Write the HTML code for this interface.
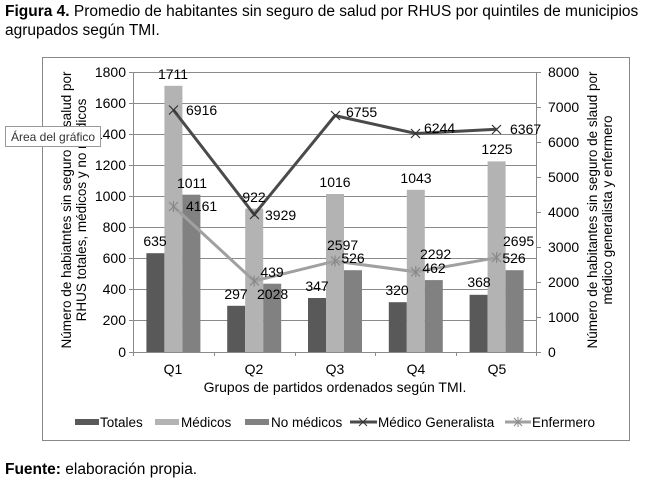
<!DOCTYPE html><html><head><meta charset="utf-8"><style>body{margin:0;background:#fff}svg{display:block;font-family:"Liberation Sans",Arial,sans-serif}</style></head><body>
<svg width="671" height="481" viewBox="0 0 671 481">
<text x="5" y="16" font-size="15.5" fill="#000"><tspan font-weight="bold">Figura 4.</tspan> Promedio de habitantes sin seguro de salud por RHUS por quintiles de municipios</text>
<text x="5" y="35" font-size="15.5" fill="#000">agrupados según TMI.</text>
<rect x="42.5" y="57.5" width="587" height="383" fill="#fff" stroke="#888"/>
<g stroke="#8a8a8a" stroke-width="1">
<line x1="133" x2="537" y1="72.5" y2="72.5"/><line x1="133" x2="537" y1="103.5" y2="103.5"/><line x1="133" x2="537" y1="134.5" y2="134.5"/><line x1="133" x2="537" y1="165.5" y2="165.5"/><line x1="133" x2="537" y1="196.5" y2="196.5"/><line x1="133" x2="537" y1="227.5" y2="227.5"/><line x1="133" x2="537" y1="258.5" y2="258.5"/><line x1="133" x2="537" y1="289.5" y2="289.5"/><line x1="133" x2="537" y1="320.5" y2="320.5"/>
</g>
<g fill="#595959"><rect x="146.4" y="253.2" width="18" height="98.8"/><rect x="227.2" y="305.8" width="18" height="46.2"/><rect x="308" y="298" width="18" height="54"/><rect x="388.8" y="302.2" width="18" height="49.8"/><rect x="469.6" y="294.8" width="18" height="57.2"/></g>
<g fill="#b3b3b3"><rect x="164.4" y="85.8" width="18" height="266.2"/><rect x="245.2" y="208.6" width="18" height="143.4"/><rect x="326" y="194" width="18" height="158"/><rect x="406.8" y="189.8" width="18" height="162.2"/><rect x="487.6" y="161.4" width="18" height="190.6"/></g>
<g fill="#818181"><rect x="182.4" y="194.7" width="18" height="157.3"/><rect x="263.2" y="283.7" width="18" height="68.3"/><rect x="344" y="270.2" width="18" height="81.8"/><rect x="424.8" y="280.1" width="18" height="71.9"/><rect x="505.6" y="270.2" width="18" height="81.8"/></g>
<g stroke="#8a8a8a"><line x1="133.5" y1="72" x2="133.5" y2="356"/><line x1="536.5" y1="72" x2="536.5" y2="356"/><line x1="129" x2="541" y1="352.5" y2="352.5"/>
<line x1="129" x2="133" y1="72.5" y2="72.5"/><line x1="129" x2="133" y1="103.5" y2="103.5"/><line x1="129" x2="133" y1="134.5" y2="134.5"/><line x1="129" x2="133" y1="165.5" y2="165.5"/><line x1="129" x2="133" y1="196.5" y2="196.5"/><line x1="129" x2="133" y1="227.5" y2="227.5"/><line x1="129" x2="133" y1="258.5" y2="258.5"/><line x1="129" x2="133" y1="289.5" y2="289.5"/><line x1="129" x2="133" y1="320.5" y2="320.5"/>
<line x1="537" x2="541" y1="72.5" y2="72.5"/><line x1="537" x2="541" y1="107.5" y2="107.5"/><line x1="537" x2="541" y1="142.5" y2="142.5"/><line x1="537" x2="541" y1="177.5" y2="177.5"/><line x1="537" x2="541" y1="212.5" y2="212.5"/><line x1="537" x2="541" y1="247.5" y2="247.5"/><line x1="537" x2="541" y1="282.5" y2="282.5"/><line x1="537" x2="541" y1="317.5" y2="317.5"/>
<line x1="214.5" x2="214.5" y1="352" y2="356"/><line x1="295.5" x2="295.5" y1="352" y2="356"/><line x1="375.5" x2="375.5" y1="352" y2="356"/><line x1="456.5" x2="456.5" y1="352" y2="356"/></g>
<polyline points="173.4,109.9 254.2,214.5 335,115.6 415.8,133.5 496.6,129.2" fill="none" stroke="#4a4a4a" stroke-width="3"/>
<polyline points="173.4,206.4 254.2,281 335,261.1 415.8,271.8 496.6,257.7" fill="none" stroke="#a0a0a0" stroke-width="3"/>
<g stroke="#333" stroke-width="1.2"><path d="M169,105.5l9,9M178,105.5l-9,9M250,210l9,9M259,210l-9,9M331,111l9,9M340,111l-9,9M411,129l9,9M420,129l-9,9M492,125l9,9M501,125l-9,9"/></g>
<g stroke="#888" stroke-width="1.2"><path d="M169,202l9,9M178,202l-9,9M173.4,201v11M250,276.5l9,9M259,276.5l-9,9M254.2,275.5v11M331,256.5l9,9M340,256.5l-9,9M335,255.5v11M411,267.5l9,9M420,267.5l-9,9M415.8,266v11M492,253l9,9M501,253l-9,9M496.6,252v11"/></g>
<g font-size="14" fill="#000" text-anchor="end">
<text x="126" y="77">1800</text><text x="126" y="108">1600</text><text x="126" y="139">1400</text><text x="126" y="170">1200</text><text x="126" y="201">1000</text><text x="126" y="232">800</text><text x="126" y="263">600</text><text x="126" y="294">400</text><text x="126" y="325">200</text><text x="126" y="357">0</text></g>
<g font-size="14" fill="#000"><text x="548" y="77">8000</text><text x="548" y="112">7000</text><text x="548" y="147">6000</text><text x="548" y="182">5000</text><text x="548" y="217">4000</text><text x="548" y="252">3000</text><text x="548" y="287">2000</text><text x="548" y="322">1000</text><text x="548" y="357">0</text></g>
<g font-size="14" fill="#000" text-anchor="middle"><text x="173" y="374">Q1</text><text x="254" y="374">Q2</text><text x="335" y="374">Q3</text><text x="416" y="374">Q4</text><text x="497" y="374">Q5</text>
<text x="335" y="392">Grupos de partidos ordenados según TMI.</text>
<text x="155" y="246">635</text><text x="236" y="299">297</text><text x="317" y="291">347</text><text x="397" y="295">320</text><text x="479" y="287">368</text>
<text x="173" y="79">1711</text><text x="254" y="202">922</text><text x="335" y="187">1016</text><text x="416" y="183">1043</text><text x="497" y="154">1225</text>
<text x="192" y="188">1011</text><text x="272" y="277">439</text><text x="353" y="263">526</text><text x="434" y="273">462</text><text x="514" y="263">526</text></g>
<g font-size="14" fill="#000"><text x="186" y="115">6916</text><text x="265" y="220">3929</text><text x="346" y="117">6755</text><text x="424" y="133">6244</text><text x="510" y="134">6367</text>
<text x="186" y="211">4161</text><text x="257" y="299">2028</text><text x="327" y="250">2597</text><text x="420" y="259">2292</text><text x="503" y="246">2695</text></g>
<g font-size="13.5" fill="#000" text-anchor="middle">
<text transform="translate(71,210) rotate(-90)">Número de habiatntes sin seguro de salud por</text>
<text transform="translate(86,210) rotate(-90)">RHUS totales, médicos y no médicos</text>
<text transform="translate(597,210) rotate(-90)">Número de habitantes sin seguro de slaud por</text>
<text transform="translate(612,210) rotate(-90)">médico generalista y enfermero</text></g>
<rect x="5.5" y="126.5" width="95" height="20" fill="#fff" stroke="#999"/>
<text x="11" y="141" font-size="12" fill="#333">Área del gráfico</text>
<g font-size="13.5" fill="#000">
<rect x="75" y="419" width="24" height="6" fill="#595959"/><text x="100" y="427">Totales</text>
<rect x="155" y="419" width="24" height="6" fill="#b3b3b3"/><text x="181" y="427">Médicos</text>
<rect x="245" y="419" width="24" height="6" fill="#818181"/><text x="271" y="427">No médicos</text>
<line x1="350" x2="377" y1="422" y2="422" stroke="#4a4a4a" stroke-width="3"/><path d="M359,418l8,8M367,418l-8,8" stroke="#333"/><text x="378" y="427">Médico Generalista</text>
<line x1="505" x2="531" y1="422" y2="422" stroke="#a0a0a0" stroke-width="3"/><path d="M514,418l8,8M522,418l-8,8M518,417v10" stroke="#888"/><text x="532" y="427">Enfermero</text></g>
<text x="5" y="474" font-size="15.5" fill="#000"><tspan font-weight="bold">Fuente:</tspan> elaboración propia.</text>
</svg></body></html>
